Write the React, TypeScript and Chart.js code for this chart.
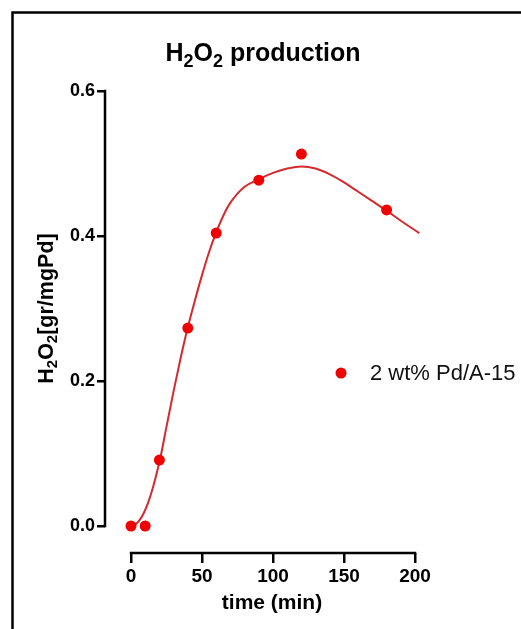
import React, { useEffect, useRef } from "react";
import { Chart, registerables } from "chart.js";

Chart.register(...registerables);

// Measured H2O2 production (gr/mgPd) over time (min)
const timeMin = [0, 10, 20, 40, 60, 90, 120, 180];
const h2o2 = [0, 0, 0.091, 0.273, 0.404, 0.477, 0.513, 0.436];

// Fitted curve through the measurements
const fitTime = [0, 3, 6, 9, 12, 15, 18, 21, 25, 30, 35, 40, 45, 50, 55, 60, 65, 70, 80, 90, 100, 110, 120, 130, 140, 150, 160, 170, 180, 190, 203];
const fitValue = [0, 0.002, 0.008, 0.018, 0.032, 0.05, 0.072, 0.097, 0.137, 0.186, 0.232, 0.274, 0.311, 0.346, 0.378, 0.405, 0.428, 0.446, 0.468, 0.478, 0.487, 0.493, 0.496, 0.493, 0.485, 0.474, 0.461, 0.448, 0.435, 0.421, 0.404];

const xTicks = [0, 50, 100, 150, 200];
const yTicks = [0, 0.2, 0.4, 0.6];

const seriesLabel = "2 wt% Pd/A-15";
const xTitle = "time (min)";
// Rich-text titles: segments flagged `sub` are drawn as subscripts
const chartTitle = [
  { t: "H" }, { t: "2", sub: true }, { t: "O" }, { t: "2", sub: true }, { t: " production" },
];
const yTitle = [
  { t: "H" }, { t: "2", sub: true }, { t: "O" }, { t: "2", sub: true }, { t: "[gr/mgPd]" },
];

const FONT = "'Liberation Sans', Arial, sans-serif";
const POINT_COLOR = "#f00000";
const LINE_COLOR = "#d42a2f";

type Seg = { t: string; sub?: boolean };

function drawRich(ctx: CanvasRenderingContext2D, segs: Seg[], cx: number, cy: number, size: number, rot: number) {
  const main = `bold ${size}px ${FONT}`;
  const small = `bold ${Math.round(size * 0.7)}px ${FONT}`;
  let total = 0;
  const widths = segs.map((s) => {
    ctx.font = s.sub ? small : main;
    const w = ctx.measureText(s.t).width;
    total += w;
    return w;
  });
  ctx.save();
  ctx.translate(cx, cy);
  ctx.rotate(rot);
  ctx.fillStyle = "#000";
  ctx.textAlign = "left";
  ctx.textBaseline = "alphabetic";
  let x = -total / 2;
  const base = size * 0.36;
  segs.forEach((s, i) => {
    ctx.font = s.sub ? small : main;
    ctx.fillText(s.t, x, s.sub ? base + size * 0.22 : base);
    x += widths[i];
  });
  ctx.restore();
}

// Outer frame (top and left edges)
const framePlugin = {
  id: "frame",
  beforeDraw(chart: any) {
    const { ctx } = chart;
    ctx.save();
    ctx.strokeStyle = "#000";
    ctx.lineWidth = 2.5;
    ctx.beginPath();
    ctx.moveTo(12.5, chart.height);
    ctx.lineTo(12.5, 12.5);
    ctx.lineTo(chart.width, 12.5);
    ctx.stroke();
    ctx.restore();
  },
};

// Chart title and y-axis title with subscripts
const titlesPlugin = {
  id: "richTitles",
  afterDraw(chart: any) {
    const { ctx, scales } = chart;
    drawRich(ctx, chartTitle, 263, 52, 25, 0);
    const yMid = (scales.y.getPixelForValue(yTicks[0]) + scales.y.getPixelForValue(yTicks[yTicks.length - 1])) / 2;
    drawRich(ctx, yTitle, 45, yMid, 21.5, -Math.PI / 2);
  },
};

// Detached axis lines spanning only the tick range
const axisLinesPlugin = {
  id: "axisLines",
  afterDraw(chart: any) {
    const { ctx, chartArea, scales } = chart;
    const xs = scales.x;
    const ys = scales.y;
    ctx.save();
    ctx.strokeStyle = "#000";
    ctx.lineWidth = 2.5;
    ctx.lineCap = "square";
    ctx.beginPath();
    ctx.moveTo(chartArea.left, ys.getPixelForValue(yTicks[yTicks.length - 1]));
    ctx.lineTo(chartArea.left, ys.getPixelForValue(yTicks[0]));
    ctx.moveTo(xs.getPixelForValue(xTicks[0]), chartArea.bottom);
    ctx.lineTo(xs.getPixelForValue(xTicks[xTicks.length - 1]), chartArea.bottom);
    ctx.stroke();
    ctx.restore();
  },
};

// Legend entry to the right of the plot
const legendPlugin = {
  id: "sideLegend",
  afterDraw(chart: any) {
    const { ctx } = chart;
    const ds = chart.data.datasets[0];
    const cx = 341;
    const cy = 373;
    ctx.save();
    ctx.fillStyle = ds.backgroundColor;
    ctx.beginPath();
    ctx.arc(cx, cy, 5.5, 0, Math.PI * 2);
    ctx.fill();
    ctx.fillStyle = "#111";
    ctx.font = `22px ${FONT}`;
    ctx.textBaseline = "middle";
    ctx.textAlign = "left";
    ctx.fillText(ds.label, 370, cy + 1);
    ctx.restore();
  },
};

export default function App() {
  const canvasRef = useRef<HTMLCanvasElement | null>(null);

  useEffect(() => {
    const canvas = canvasRef.current;
    if (!canvas) return;
    const chart = new Chart(canvas, {
      type: "scatter",
      data: {
        datasets: [
          {
            label: seriesLabel,
            data: timeMin.map((t, i) => ({ x: t, y: h2o2[i] })),
            backgroundColor: POINT_COLOR,
            borderColor: POINT_COLOR,
            borderWidth: 0,
            pointRadius: 5.5,
            showLine: false,
          },
          {
            label: "fit",
            data: fitTime.map((t, i) => ({ x: t, y: fitValue[i] })),
            borderColor: LINE_COLOR,
            borderWidth: 2,
            pointRadius: 0,
            showLine: true,
            fill: false,
            cubicInterpolationMode: "monotone",
          },
        ],
      },
      options: {
        responsive: false,
        animation: false,
        events: [],
        layout: { padding: { left: 0, right: 82, top: 64, bottom: 0 } },
        plugins: {
          legend: { display: false },
          tooltip: { enabled: false },
          title: { display: false },
        },
        scales: {
          x: {
            type: "linear",
            min: -26 / 1.42,
            max: 200 + 24 / 1.42,
            afterBuildTicks: (s: any) => {
              s.ticks = xTicks.map((v) => ({ value: v }));
            },
            afterFit: (s: any) => {
              s.height = 76;
            },
            border: { display: false },
            grid: {
              drawOnChartArea: false,
              drawTicks: true,
              tickLength: 10,
              color: "#000",
              lineWidth: 2.5,
            },
            ticks: {
              color: "#000",
              font: { family: FONT, size: 19, weight: "bold" },
              padding: 2,
              maxRotation: 0,
              autoSkip: false,
              callback: (v: any) => String(v),
            },
            title: {
              display: true,
              text: xTitle,
              color: "#000",
              font: { family: FONT, size: 21, weight: "bold" },
              padding: { top: 0, bottom: 13 },
            },
          },
          y: {
            type: "linear",
            min: -27 / 725,
            max: 0.6 + 27 / 725,
            afterBuildTicks: (s: any) => {
              s.ticks = yTicks.map((v) => ({ value: v }));
            },
            afterFit: (s: any) => {
              s.width = 105;
            },
            border: { display: false },
            grid: {
              drawOnChartArea: false,
              drawTicks: true,
              tickLength: 8,
              color: "#000",
              lineWidth: 2.5,
            },
            ticks: {
              color: "#000",
              font: { family: FONT, size: 18, weight: "bold" },
              padding: 2,
              autoSkip: false,
              callback: (v: any) => Number(v).toFixed(1),
            },
            title: { display: false },
          },
        },
      } as any,
      plugins: [framePlugin, axisLinesPlugin, titlesPlugin, legendPlugin],
    });
    return () => chart.destroy();
  }, []);

  return (
    <div style={{ position: "absolute", left: 0, top: 0, width: 521, height: 629, background: "#fff" }}>
      <canvas ref={canvasRef} width={521} height={629} style={{ display: "block" }} />
    </div>
  );
}
